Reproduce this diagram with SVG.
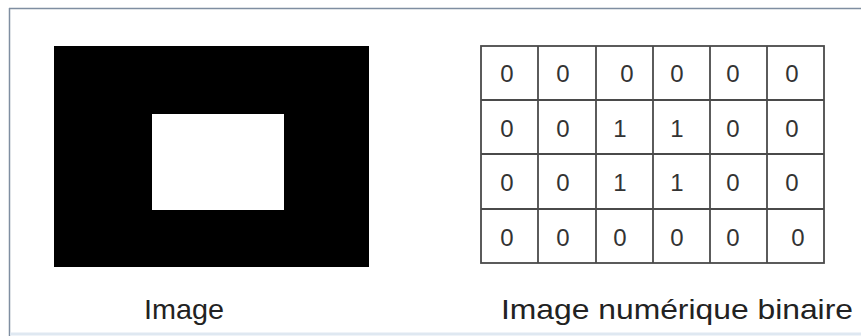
<svg xmlns="http://www.w3.org/2000/svg" width="861" height="336" viewBox="0 0 861 336">
<style>
.lbl{font-family:"Liberation Sans",Arial,sans-serif;font-size:28px;fill:#222}
.d{font-family:"Liberation Sans",Arial,sans-serif;font-size:24px;fill:#333;text-anchor:middle}
.g{stroke:#4a4a4a;stroke-width:1.8;fill:none}
</style>
<rect x="0" y="0" width="861" height="336" fill="#ffffff"/>
<g id="frame">
<line x1="9" y1="8.5" x2="861" y2="8.5" stroke="#7f8ea1" stroke-width="1.5"/>
<line x1="9.5" y1="8" x2="9.5" y2="336" stroke="#7f8ea1" stroke-width="1.5"/>
<line x1="10" y1="334" x2="861" y2="334" stroke="#dfe8f1" stroke-width="3"/>
</g>
<g id="image">
<rect x="54" y="46" width="315" height="221" fill="#000"/>
<rect x="152" y="114" width="132" height="96" fill="#fff"/>
<text class="lbl" x="144" y="319" textLength="80" lengthAdjust="spacingAndGlyphs">Image</text>
</g>
<g id="grid">
<rect class="g" x="481" y="46" width="343" height="217"/>
<line class="g" x1="538" y1="46" x2="538" y2="263"/>
<line class="g" x1="596" y1="46" x2="596" y2="263"/>
<line class="g" x1="653" y1="46" x2="653" y2="263"/>
<line class="g" x1="710" y1="46" x2="710" y2="263"/>
<line class="g" x1="767" y1="46" x2="767" y2="263"/>
<line class="g" x1="481" y1="100" x2="824" y2="100"/>
<line class="g" x1="481" y1="154" x2="824" y2="154"/>
<line class="g" x1="481" y1="209" x2="824" y2="209"/>
<g>
<text class="d" x="507" y="82">0</text><text class="d" x="563" y="82">0</text><text class="d" x="627" y="82">0</text><text class="d" x="677" y="82">0</text><text class="d" x="733" y="82">0</text><text class="d" x="792" y="82">0</text>
<text class="d" x="507" y="137">0</text><text class="d" x="563" y="137">0</text><text class="d" x="620" y="137">1</text><text class="d" x="677" y="137">1</text><text class="d" x="733" y="137">0</text><text class="d" x="792" y="137">0</text>
<text class="d" x="507" y="191">0</text><text class="d" x="563" y="191">0</text><text class="d" x="620" y="191">1</text><text class="d" x="677" y="191">1</text><text class="d" x="733" y="191">0</text><text class="d" x="792" y="191">0</text>
<text class="d" x="507" y="246">0</text><text class="d" x="563" y="246">0</text><text class="d" x="620" y="246">0</text><text class="d" x="677" y="246">0</text><text class="d" x="733" y="246">0</text><text class="d" x="798" y="246">0</text>
</g>
<text class="lbl" x="501" y="319" textLength="352" lengthAdjust="spacingAndGlyphs">Image numérique binaire</text>
</g>
</svg>
